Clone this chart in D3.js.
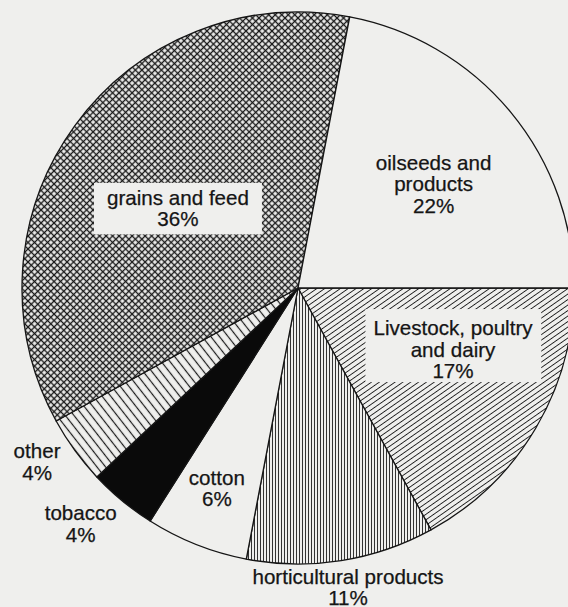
<!DOCTYPE html>
<html><head><meta charset="utf-8">
<script src="https://cdn.jsdelivr.net/npm/d3@7"></script>
<style>html,body{margin:0;padding:0;background:#efefed;} svg{display:block}</style>
</head><body><svg id="chart" width="568" height="607"></svg>
<script>
// ---- data ----
const categories = ["Livestock, poultry and dairy", "horticultural products", "cotton", "tobacco", "other", "grains and feed", "oilseeds and products"];
const shares = [17, 11, 6, 4, 4, 36, 22];
const labelNameLines = [["Livestock, poultry", "and dairy"], ["horticultural products"], ["cotton"], ["tobacco"], ["other"], ["grains and feed"], ["oilseeds and", "products"]];

// ---- layout / style (separate from data) ----
const W = 568, H = 607, cx = 298, cy = 288, R = 276;
const bg = "#efefed", ink = "#151515";
const fills = ["url(#pLive)", "url(#pHort)", bg, "#0a0a0a", "url(#pOther)", "url(#pGrain)", bg];
const labelAngleOffset = [-13.7, -0.6, 0.8, 3.5, 2.9, -1.3, -1.5]; // degrees from slice middle
const labelRadius = [162, 300, 213, 318, 311.5, 146, 180];
const labelBox = [{l: 8, r: 8, t: 7, b: 0}, null, null, null, null, {l: 13, r: 13, t: 3, b: 4}, null];
const lineH = 21.5;

const svg = d3.select("#chart");
svg.append("rect").attr("width", W).attr("height", H).attr("fill", bg);
const defs = svg.append("defs");

function hatch(id, spacing, angle, sw, color, cross) {
  const p = defs.append("pattern").attr("id", id)
    .attr("patternUnits", "userSpaceOnUse")
    .attr("width", spacing).attr("height", spacing)
    .attr("patternTransform", `rotate(${angle})`);
  p.append("rect").attr("width", spacing).attr("height", spacing).attr("fill", bg);
  p.append("line").attr("x1", -1).attr("x2", spacing + 1).attr("y1", spacing / 2).attr("y2", spacing / 2)
    .attr("stroke", color).attr("stroke-width", sw);
  if (cross) {
    p.append("line").attr("y1", -1).attr("y2", spacing + 1).attr("x1", spacing / 2).attr("x2", spacing / 2)
      .attr("stroke", color).attr("stroke-width", sw);
  }
}
hatch("pGrain", 4.6, 45, 1.35, "#1a1a1a", true);
hatch("pHort", 3, 90, 1.05, "#333", false);
hatch("pLive", 4.5, -35, 0.95, "#1e1e1e", false);
hatch("pOther", 6.8, 52, 1.2, "#1a1a1a", false);

const pie = d3.pie().sort(null).value(d => d)
  .startAngle(Math.PI / 2).endAngle(Math.PI / 2 + 2 * Math.PI);
const arcs = pie(shares);
const arc = d3.arc().innerRadius(0).outerRadius(R);

const g = svg.append("g").attr("transform", `translate(${cx},${cy})`);
g.selectAll("path.slice").data(arcs).join("path")
  .attr("class", "slice")
  .attr("d", arc)
  .attr("fill", (d, i) => fills[i])
  .attr("stroke", ink).attr("stroke-width", 1.3).attr("stroke-linejoin", "round");

// labels
const lg = g.append("g").attr("font-family", "'Liberation Sans', Arial, Helvetica, sans-serif")
  .attr("font-size", 20.6).attr("fill", ink).attr("text-anchor", "middle");
arcs.forEach((d, i) => {
  const mid = (d.startAngle + d.endAngle) / 2 + labelAngleOffset[i] * Math.PI / 180;
  const [x, y] = d3.pointRadial(mid, labelRadius[i]);
  const lines = labelNameLines[i].concat([shares[i] + "%"]);
  const grp = lg.append("g");
  const t = grp.append("text").attr("x", x).attr("y", y)
    .attr("stroke", ink).attr("stroke-width", 0.25);
  lines.forEach((s, k) => {
    t.append("tspan").attr("x", x).attr("dy", k === 0 ? 0 : lineH).text(s);
  });
  const box = labelBox[i];
  if (box) {
    const bb = t.node().getBBox();
    grp.insert("rect", "text")
      .attr("x", bb.x - box.l).attr("y", bb.y - box.t)
      .attr("width", bb.width + box.l + box.r).attr("height", bb.height + box.t + box.b)
      .attr("fill", bg);
  }
});
</script>
</body></html>
